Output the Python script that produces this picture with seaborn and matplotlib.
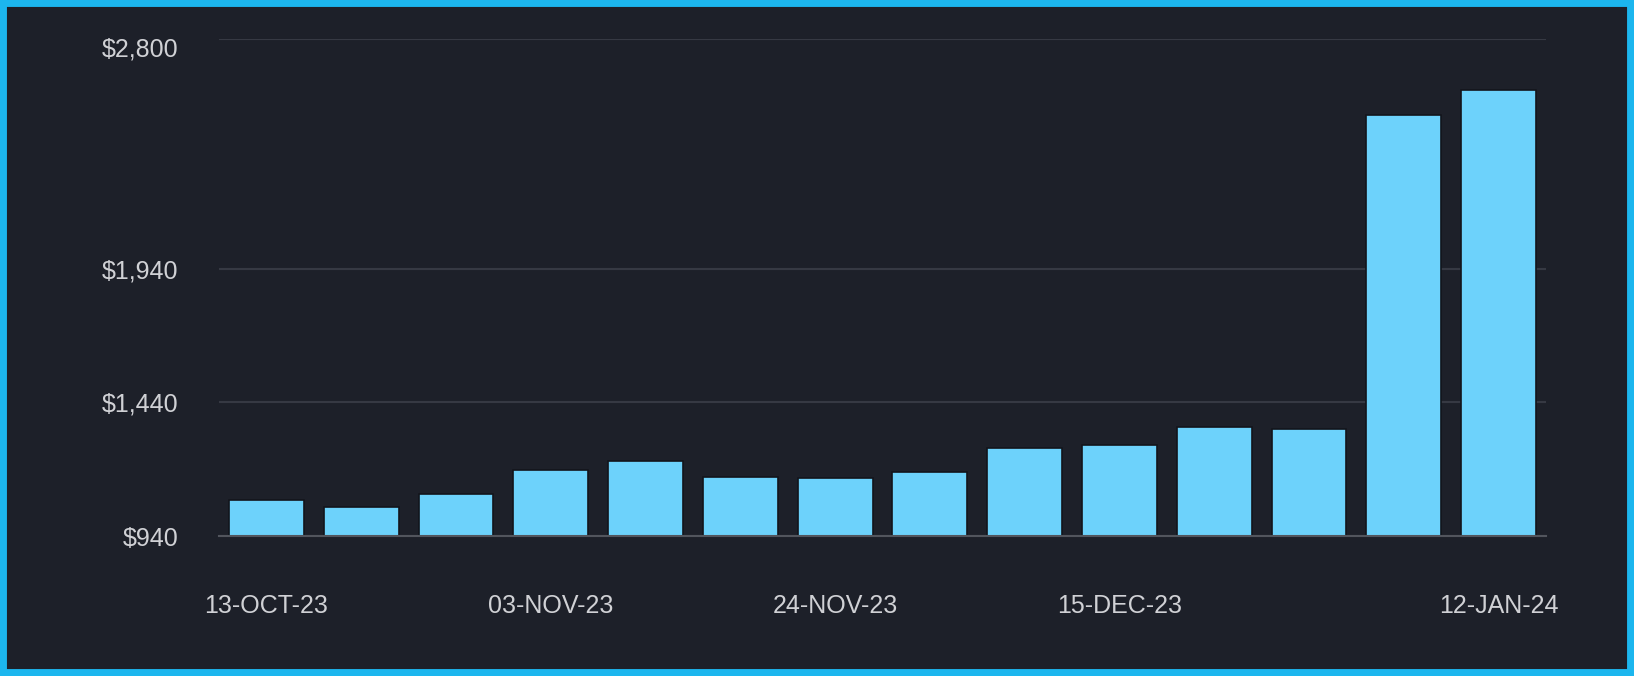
import matplotlib
matplotlib.use("Agg")
import matplotlib.pyplot as plt
import seaborn as sns
from matplotlib.patches import Rectangle
from matplotlib.transforms import ScaledTranslation

# ---- data ----
week_labels = ["13-OCT-23", "20-OCT-23", "27-OCT-23", "03-NOV-23", "10-NOV-23",
               "17-NOV-23", "24-NOV-23", "01-DEC-23", "08-DEC-23", "15-DEC-23",
               "22-DEC-23", "29-DEC-23", "05-JAN-24", "12-JAN-24"]
values = [1075, 1050, 1097, 1187, 1221, 1160, 1157, 1181, 1271, 1281,
          1349, 1342, 2516, 2611]
shown_xticks = ["13-OCT-23", "03-NOV-23", "24-NOV-23", "15-DEC-23", "12-JAN-24"]
y_ticks = [940, 1440, 1940, 2800]

BG = "#1d2029"
BAR = "#6dd2fb"
TXT = "#d0d1d5"

sns.set_theme(style="dark")
plt.rcParams["font.family"] = ["Liberation Sans", "DejaVu Sans"]

fig = plt.figure(figsize=(16.34, 6.76), dpi=100, facecolor=BG)
ax = fig.add_axes([219 / 1634, 1 - 536 / 676, (1546 - 219) / 1634, (536 - 39) / 676])
ax.set_facecolor(BG)

sns.barplot(x=week_labels, y=values, color=BAR, saturation=1, width=0.79,
            edgecolor="#13151b", linewidth=1.2, ax=ax)

ax.set_ylim(y_ticks[0], y_ticks[-1])
ax.set_xlim(-0.5, len(week_labels) - 0.5)
ax.set_yticks(y_ticks)
ax.set_yticklabels([f"${v:,}" for v in y_ticks])

pos = [week_labels.index(l) for l in shown_xticks]
ax.set_xticks(pos)
ax.set_xticklabels(shown_xticks)

ax.set_xlabel("")
ax.set_ylabel("")
ax.tick_params(axis="both", length=0, colors=TXT, labelsize=18)
ax.tick_params(axis="y", pad=29)
ax.tick_params(axis="x", pad=42)

# top label sits slightly below its gridline in the reference
top_lbl = ax.get_yticklabels()[-1]
top_lbl.set_transform(top_lbl.get_transform() + ScaledTranslation(0, -0.08, fig.dpi_scale_trans))

ax.yaxis.grid(True, color="#363943", linewidth=1.5)
ax.xaxis.grid(False)
ax.set_axisbelow(True)
for s in ["top", "left", "right"]:
    ax.spines[s].set_visible(False)
ax.spines["bottom"].set_color("#52555d")
ax.spines["bottom"].set_linewidth(1.5)

# outer border
fig.patches.append(Rectangle((0, 0), 1, 1, transform=fig.transFigure, fill=False,
                             edgecolor="#1cb6ee", linewidth=10, zorder=10))

fig.savefig("out.png", dpi=100, facecolor=BG)
